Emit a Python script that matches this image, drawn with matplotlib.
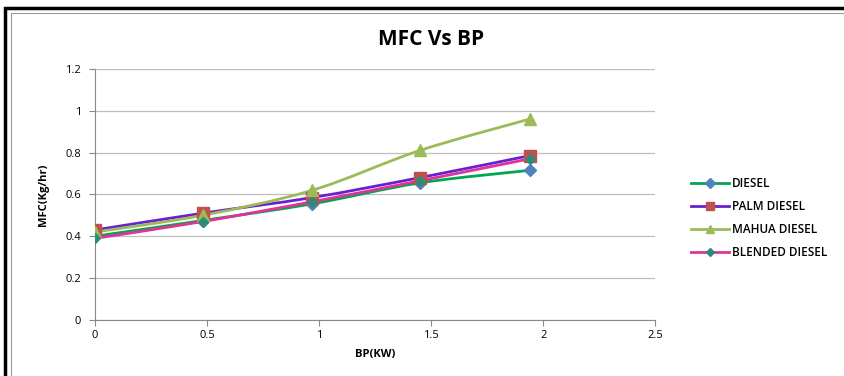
import matplotlib
matplotlib.use("Agg")
import matplotlib.pyplot as plt
from matplotlib.patches import Rectangle
from matplotlib.path import Path
import matplotlib.patches as mpatches
import numpy as np

bp = [0, 0.48, 0.97, 1.45, 1.94]
diesel = [0.40, 0.475, 0.555, 0.655, 0.715]
palm = [0.43, 0.51, 0.585, 0.68, 0.785]
mahua = [0.42, 0.50, 0.62, 0.81, 0.96]
blended = [0.39, 0.47, 0.565, 0.665, 0.77]
labels = ["DIESEL", "PALM DIESEL", "MAHUA DIESEL", "BLENDED DIESEL"]
xticks = [0, 0.5, 1, 1.5, 2, 2.5]
yticks = [0, 0.2, 0.4, 0.6, 0.8, 1, 1.2]

plt.rcParams['font.family'] = ['Open Sans', 'DejaVu Sans']

fig = plt.figure(figsize=(8.45, 3.76), dpi=100)
fig.patches.append(Rectangle((0.006, -0.01), 1.0, 0.99, transform=fig.transFigure,
                             fill=False, edgecolor='black', linewidth=2.5))
fig.patches.append(Rectangle((0.013, -0.01), 0.99, 0.975, transform=fig.transFigure,
                             fill=False, edgecolor='#999999', linewidth=0.8))

ax = fig.add_axes([0.1124, 0.149, 0.663, 0.668])


def smooth_path(xs, ys, color, lw):
    # Excel-style smoothed line (cardinal Bezier) through data points
    pts = ax.transData.transform(np.column_stack([xs, ys]))
    verts = [pts[0]]
    codes = [Path.MOVETO]
    n = len(pts)
    t = 1 / 6
    for i in range(n - 1):
        p0 = pts[i - 1] if i > 0 else pts[i]
        p1 = pts[i]
        p2 = pts[i + 1]
        p3 = pts[i + 2] if i + 2 < n else pts[i + 1]
        c1 = p1 + (p2 - p0) * t
        c2 = p2 - (p3 - p1) * t
        verts += [c1, c2, p2]
        codes += [Path.CURVE4] * 3
    path = Path(ax.transData.inverted().transform(np.array(verts)), codes)
    ax.add_patch(mpatches.PathPatch(path, fill=False, edgecolor=color, linewidth=lw, zorder=3))


ax.set_xlim(0, 2.5)
ax.set_ylim(0, 1.2)

series = [
    (diesel, '#00A650', 'D', '#4F81BD', 6),
    (palm, '#6A1FD0', 's', '#C0504D', 8),
    (mahua, '#9BBB59', '^', '#9BBB59', 8),
    (blended, '#E0339A', 'D', '#2E8B7A', 5),
]
handles = []
for (ys, lc, m, mc, ms), lab in zip(series, labels):
    smooth_path(bp, ys, lc, 2)
    ax.plot(bp, ys, linestyle='none', marker=m, color=mc, markersize=ms, zorder=4)
    h, = ax.plot([], [], color=lc, linewidth=2, marker=m, markerfacecolor=mc,
                 markeredgecolor=mc, markersize=ms * 0.8, label=lab)
    handles.append(h)

ax.set_xticks(xticks)
ax.set_xticklabels([f"{v:g}" for v in xticks], fontsize=8)
ax.set_yticks(yticks)
ax.set_yticklabels([f"{v:g}" for v in yticks], fontsize=8)
ax.grid(axis='y', color='#BFBFBF', linewidth=0.9)
ax.set_axisbelow(True)
for s in ['top', 'right']:
    ax.spines[s].set_visible(False)
for s in ['left', 'bottom']:
    ax.spines[s].set_color('#888888')
ax.tick_params(axis='x', length=4, color='#888888', direction='out', pad=3)
ax.tick_params(axis='y', length=4, color='#888888', direction='out', pad=6)

ax.set_xlabel("BP(KW)", fontsize=8, fontweight='bold', labelpad=6)
ax.set_ylabel("MFC(Kg/hr)", fontsize=8, fontweight='bold', labelpad=12)
fig.text(0.51, 0.895, "MFC Vs BP", ha='center', va='center', fontsize=15, fontweight='bold')

fig.legend(handles=handles, loc='center left', bbox_to_anchor=(0.805, 0.42),
           frameon=False, prop={'size': 8.5, 'weight': 'semibold'}, handlelength=3.2,
           labelspacing=0.85, handletextpad=0.3)

fig.savefig("out.png", dpi=100)
